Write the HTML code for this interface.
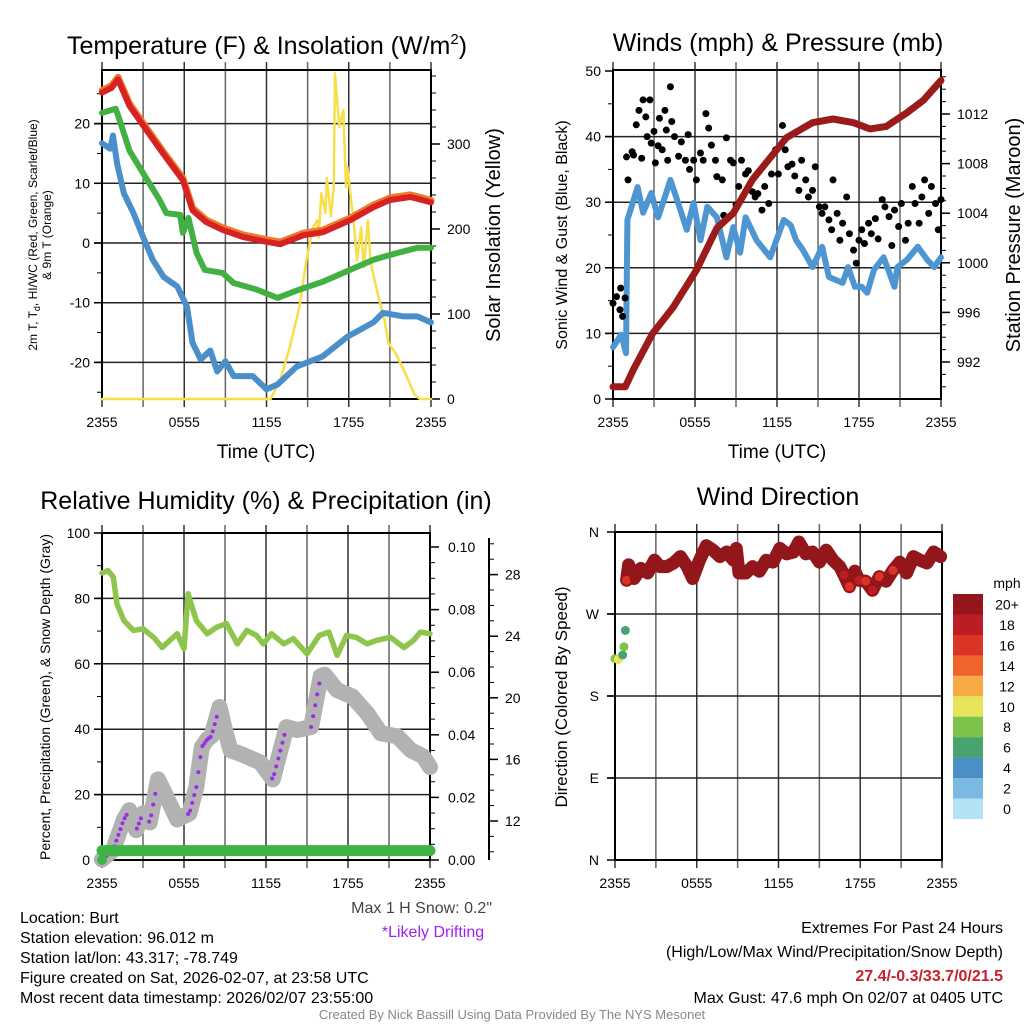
<!DOCTYPE html>
<html><head><meta charset="utf-8"><style>
html,body{margin:0;padding:0;background:#fff;}
svg{display:block;font-family:"Liberation Sans",sans-serif;}
</style></head><body>
<svg id="fig" width="1024" height="1024" viewBox="0 0 1024 1024" xmlns="http://www.w3.org/2000/svg">
<rect width="1024" height="1024" fill="#fff"/>
<text x="267" y="54" font-size="25" text-anchor="middle">Temperature (F) &amp; Insolation (W/m<tspan font-size="15" dy="-10">2</tspan><tspan dy="10">)</tspan></text>
<text x="778" y="51" font-size="25" text-anchor="middle">Winds (mph) &amp; Pressure (mb)</text>
<text x="266" y="509" font-size="25" text-anchor="middle">Relative Humidity (%) &amp; Precipitation (in)</text>
<text x="778" y="505" font-size="25" text-anchor="middle">Wind Direction</text>
<text x="266" y="458" font-size="19" text-anchor="middle">Time (UTC)</text>
<text x="777" y="458" font-size="19" text-anchor="middle">Time (UTC)</text>
<text transform="translate(37,235) rotate(-90)" font-size="12" text-anchor="middle">2m T, T<tspan font-size="9" dy="3">d</tspan><tspan dy="-3">, HI/WC (Red, Green, Scarlet/Blue)</tspan></text>
<text transform="translate(51,235) rotate(-90)" font-size="12" text-anchor="middle">&amp; 9m T (Orange)</text>
<text transform="translate(500,235) rotate(-90)" font-size="20" text-anchor="middle">Solar Insolation (Yellow)</text>
<text transform="translate(567,235) rotate(-90)" font-size="16" text-anchor="middle">Sonic Wind &amp; Gust (Blue, Black)</text>
<text transform="translate(1020,235) rotate(-90)" font-size="20" text-anchor="middle">Station Pressure (Maroon)</text>
<text transform="translate(50,697) rotate(-90)" font-size="14" text-anchor="middle">Percent, Precipitation (Green), &amp; Snow Depth (Gray)</text>
<text transform="translate(567,697) rotate(-90)" font-size="17" text-anchor="middle">Direction (Colored By Speed)</text>
<text x="492" y="913" font-size="16" text-anchor="end" fill="#444">Max 1 H Snow: 0.2"</text>
<text x="433" y="937" font-size="16" text-anchor="middle" fill="#a020f0">*Likely Drifting</text>
<g font-size="16">
<text x="20" y="923">Location: Burt</text>
<text x="20" y="943">Station elevation: 96.012 m</text>
<text x="20" y="963">Station lat/lon: 43.317; -78.749</text>
<text x="20" y="983">Figure created on Sat, 2026-02-07, at 23:58 UTC</text>
<text x="20" y="1003">Most recent data timestamp: 2026/02/07 23:55:00</text>
</g>
<g font-size="16" text-anchor="end">
<text x="1003" y="933">Extremes For Past 24 Hours</text>
<text x="1003" y="957">(High/Low/Max Wind/Precipitation/Snow Depth)</text>
<text x="1003" y="981" fill="#c8202a" font-weight="bold">27.4/-0.3/33.7/0/21.5</text>
<text x="1003" y="1003">Max Gust: 47.6 mph On 02/07 at 0405 UTC</text>
</g>
<text x="512" y="1019" font-size="13" text-anchor="middle" fill="#888">Created By Nick Bassill Using Data Provided By The NYS Mesonet</text>
<text x="1007" y="588" font-size="14" text-anchor="middle">mph</text>
</svg>
<script>
// ---------- data ----------
const xTickLabels = ["2355","0555","1155","1755","2355"];
const redT = [0,0.7,1.17,2,3,4.45,5.9,6.6,7.6,8.8,10.3,12,13,14.7,16.1,18.1,19.8,21,22.5,24];
const redV = [25.2,26.0,27.4,23.0,19.7,15.0,10.5,5.5,3.5,2.2,1.0,0.2,-0.2,1.3,1.8,3.8,6.0,7.2,7.7,6.8];
const greenT = [0,1.0,1.3,2.0,3,4.2,4.7,5.7,5.9,6.3,6.9,7.5,8.8,9.6,11.3,12.8,14.4,16.1,18.1,19.8,21.5,23,24];
const greenV = [21.8,22.5,20.5,15.5,11.7,7.2,5.0,4.7,1.7,4.2,-1.7,-4.5,-5.0,-6.7,-7.8,-9.2,-7.8,-6.5,-4.5,-2.8,-1.7,-0.8,-0.8];
const blueT = [0,0.6,0.8,1.1,1.6,2.3,3,3.7,4.5,5.5,6.2,6.6,7.2,7.9,8.4,9,9.6,11,12,12.8,14.2,16.1,17.9,19.8,20.5,22,23,24];
const blueV = [16.7,15.8,18,13.3,8.3,5,1,-2.8,-5.7,-7.3,-10.7,-16.7,-19.5,-18,-21.5,-19.8,-22.3,-22.3,-24.5,-23.7,-20.7,-19,-15.7,-13.3,-11.7,-12.3,-12.3,-13.3];
const solarT = [0,12.3,13,13.7,14.4,14.9,15.4,15.7,15.8,16,16.3,16.4,16.7,16.9,17.0,17.3,17.6,17.8,17.9,18.4,18.6,18.9,19.1,19.4,19.6,20.1,20.6,20.9,21.4,22.1,22.8,23.2,24];
const solarV = [0,0,22,61,108,163,202,210,190,242,219,260,215,249,383,320,340,249,273,202,163,202,155,210,160,125,93,66,54,31,5,0,0];
const presT = [0,0.9,1.5,2.9,4.4,6.1,7.6,8.8,10.2,12.7,14.6,16.1,17.6,18.8,20,21.5,22.7,24];
const presV = [990,990,991.4,994.3,996.4,999.4,1002.8,1004,1006.7,1010.1,1011.3,1011.6,1011.3,1010.8,1011,1012.1,1013.1,1014.7];
const windT = [0,0.6,0.95,1.05,1.8,2.2,2.8,3.3,3.8,4.2,4.7,5.4,5.9,6.4,6.9,7.6,8.3,8.8,9.3,9.7,10.5,11.5,12.5,13.0,13.4,13.9,14.6,15.3,15.8,16.8,17.2,17.7,18.2,18.6,19.1,19.8,20.6,20.8,21.5,22.3,23,23.5,24];
const windV = [7.9,9.8,7.0,27.3,32.3,28.4,31.4,27.7,30.8,33.4,30.3,25.8,29.9,24.2,29.3,27.7,21.6,26.2,22.3,27.7,24.2,21.6,27.3,26.5,24.2,22.7,20.1,23.2,18.6,17.7,20.1,17.1,17.1,16.2,19.7,21.6,17.1,20.1,21.2,23.2,21.2,20.1,21.6];
const gustT = [0,0.26,0.51,0.56,0.7,0.88,0.99,1.1,1.4,1.5,1.7,1.9,2.1,2.2,2.4,2.5,2.7,2.8,3.0,3.1,3.3,3.4,3.6,3.8,3.9,4.0,4.2,4.3,4.5,4.8,5.0,5.3,5.5,5.6,5.9,6.1,6.4,6.6,6.8,7.0,7.2,7.5,7.6,8.0,8.1,8.3,8.6,8.8,9.0,9.2,9.4,9.7,9.9,10.2,10.4,10.6,10.9,11.1,11.4,11.6,11.9,12.1,12.4,12.6,12.8,13.1,13.3,13.6,13.8,14.1,14.3,14.6,14.8,15.1,15.3,15.5,15.8,16.0,16.1,16.4,16.6,16.8,17.1,17.3,17.6,17.8,18.0,18.2,18.4,18.7,18.9,19.2,19.4,19.7,19.9,20.2,20.4,20.6,20.9,21.1,21.4,21.6,21.9,22.1,22.4,22.6,22.8,23.1,23.3,23.6,23.8,24.0];
const gustV = [14.6,15.6,13.6,16.9,12.6,15.4,36.9,33.4,37.7,37.2,41.8,44,36.7,45.6,43,40,45.6,39,40.8,36,38.6,42.8,38,44,41,36.4,47.6,42.3,40,37,39.2,36.4,40.3,35,36.4,33.4,37.5,36.4,43.5,41.3,38.7,36.4,33.9,33.4,28,39.8,36.4,36,29.6,32.4,36.4,34.3,34.8,31.6,30.8,31.3,28.8,32.4,29.8,34.3,38,34.3,41.7,38,35.4,35.8,34,31.8,36.4,33.4,30.8,31.8,35.4,29.3,28.3,29.3,27.3,25.8,33.4,28.3,24.2,26.8,30.8,25.2,22.7,20.7,24.2,25.8,23.7,26.8,25.2,27.5,24.4,30.4,29.3,27.8,23.4,28.8,26.3,29.8,24.2,26.8,32.4,29.8,26.8,30.8,33.4,28.3,32.4,29.8,25.8,30.4];
const rhT = [0,0.44,0.83,1.1,1.6,2.3,3.0,3.8,4.4,5.5,6.0,6.3,6.9,7.7,8.4,9.1,9.9,10.6,11.3,11.8,12.4,13.3,14.0,15.0,15.9,16.6,17.2,17.9,18.6,19.4,20.1,21.1,22.1,22.8,23.3,24];
const rhV = [87.8,88.5,86.5,78.3,73.2,70.2,70.7,68,65,69.2,64.6,81.4,73.2,69.2,71.2,72.3,66.1,70.2,68.7,66.1,69.2,66.1,67.7,63.1,68.7,69.7,62.6,68.7,68.1,66.1,67.2,68.1,65,67.2,69.7,69.2];
const precipT = [0,24];
const precipV = [0.003,0.003];
const snowT = [0,0.8,1.6,2.0,2.5,3.0,3.5,4.1,4.6,5.5,6.4,6.9,7.3,7.7,8.0,8.6,9.0,9.4,10.3,11.6,12.5,13.0,13.5,14.3,15.3,16.0,16.3,17.2,18.3,19.4,20.4,21.6,22.6,23.5,24];
const snowV = [9.5,10.1,12.1,12.7,11.4,12.5,11.9,14.7,13.8,12.1,12.5,14.2,16.8,17.3,17.5,19.4,17.9,16.6,16.3,15.8,14.7,16.4,18.1,17.9,18.1,21.4,21.5,20.5,20.1,19.0,17.7,17.5,16.6,16.2,15.5];
const dirT = [0,0.24,0.56,0.66,0.76,0.85,1.0,1.4,1.9,2.4,2.9,3.3,3.8,4.3,4.8,5.3,5.7,6.2,6.7,7.2,7.7,8.2,8.7,8.9,9.1,9.6,10.1,10.6,11.1,11.6,12.1,12.6,13.1,13.5,14.0,14.5,15.0,15.5,16.0,16.5,16.8,17.2,17.6,17.9,18.4,18.9,19.4,19.9,20.4,20.9,21.4,21.9,22.4,22.9,23.4,23.9];
const dirV = [221,220,225,234,252,307,324,309,320,315,329,322,322,326,333,322,309,329,345,340,333,338,329,342,315,315,322,317,329,327,342,336,338,349,336,338,327,340,329,322,313,300,317,307,306,296,311,306,318,327,315,333,329,326,338,333];
const dirSpd = [8,10,6,8,6,16,22,22,22,22,22,22,22,22,22,22,22,22,22,22,22,22,22,22,22,22,22,22,22,22,22,22,22,22,22,22,22,22,22,22,18,16,20,18,17,18,16,20,17,20,20,22,22,22,22,22];
const cbLabels = ["20+","18","16","14","12","10","8","6","4","2","0"];
const cbColors = ["#93161b","#bb1d24","#dc3327","#f0632b","#f6a944","#e7e35a","#7dc24a","#48a46f","#4a8fc6","#7bb9e3","#b3e2f6"];

// ---------- helpers ----------
const NS = "http://www.w3.org/2000/svg";
const svg = document.getElementById("fig");
function mk(tag, attrs, parent){const e=document.createElementNS(NS,tag);for(const k in attrs)e.setAttribute(k,attrs[k]);(parent||svg).appendChild(e);return e;}
function txt(x,y,s,size,anchor,parent){const e=mk("text",{x:x,y:y,"font-size":size,"text-anchor":anchor},parent);e.textContent=s;return e;}
const P1={x0:102,x1:431,y0:70,y1:399}, P2={x0:613,x1:941,y0:70,y1:399}, P3={x0:102,x1:430,y0:533,y1:860}, P4={x0:615,x1:942,y0:532,y1:860};
function xs(P){return t=>P.x0+t/24*(P.x1-P.x0);}
function pathD(T,V,xf,yf){return T.map((t,i)=>(i?"L":"M")+xf(t).toFixed(1)+","+yf(V[i]).toFixed(1)).join("");}
function interp(T,V,t){for(let i=1;i<T.length;i++){if(t<=T[i]){const f=(t-T[i-1])/(T[i]-T[i-1]||1);return V[i-1]+f*(V[i]-V[i-1]);}}return V[V.length-1];}

function frame(P,name,hGrid,yfLeft){
  const g=mk("g",{});
  
  
  const x=xs(P);
  for(let h=0;h<=24;h+=3){
    const ln=mk("line",{x1:x(h),x2:x(h),y1:P.y0-8,y2:P.y1+8,stroke:(h%6?"#666":"#333"),"stroke-width":1.5},g);
    
    
  }
  for(let i=0;i<5;i++){
    const l=txt(x(i*6),P.y1+28,xTickLabels[i],14,"middle",g);
    
    
  }
  hGrid.forEach(v=>{
    const ln=mk("line",{x1:P.x0-8,x2:P.x1,y1:yfLeft(v),y2:yfLeft(v),stroke:"#222","stroke-width":1.5},g);
    
    
  });
  const r=mk("rect",{x:P.x0,y:P.y0,width:P.x1-P.x0,height:P.y1-P.y0,fill:"none",stroke:"#000","stroke-width":2},g);
  
  
  return g;
}
function ticksLeft(P,vals,yf,minor,labelFn){
  const g=mk("g",{});
  
  
  minor.forEach(v=>mk("line",{x1:P.x0-5,x2:P.x0,y1:yf(v),y2:yf(v),stroke:"#000","stroke-width":1},g));
  vals.forEach(v=>{mk("line",{x1:P.x0-8,x2:P.x0,y1:yf(v),y2:yf(v),stroke:"#000","stroke-width":1.5},g);
    const l=txt(P.x0-12,yf(v)+5,labelFn(v),14,"end",g);
    
    });
}
function ticksRight(ax,vals,yf,minor,labelFn,lx,y0,y1,line){
  const g=mk("g",{});
  
  
  if(line) mk("line",{x1:ax,x2:ax,y1:y0,y2:y1,stroke:"#000","stroke-width":2},g);
  minor.forEach(v=>mk("line",{x1:ax,x2:ax+5,y1:yf(v),y2:yf(v),stroke:"#000","stroke-width":1},g));
  vals.forEach(v=>{mk("line",{x1:ax,x2:ax+9,y1:yf(v),y2:yf(v),stroke:"#000","stroke-width":1.5},g);
    const l=txt(lx,yf(v)+5,labelFn(v),14,"start",g);
    
    });
}
function range(a,b,s){const r=[];for(let v=a;v<=b+1e-9;v+=s)r.push(+v.toFixed(4));return r;}
function series(d,color,w,name,extra){
  const p=mk("path",Object.assign({d:d,fill:"none",stroke:color,"stroke-width":w,"stroke-linejoin":"round","stroke-linecap":"round"},extra||{}));
  
  
  return p;
}

// ---------- panel 1 ----------
{
  const x=xs(P1), yT=v=>243-v*5.97, yS=v=>399-v*0.85;
  frame(P1,"temperature",[20,10,0,-10,-20],yT);
  ticksLeft(P1,[20,10,0,-10,-20],yT,range(-25,25,5),v=>String(v));
  ticksRight(P1.x1,[0,100,200,300],yS,range(0,380,20),v=>String(v),P1.x1+16,0,0,false);
  series(pathD(solarT,solarV,x,yS),"#f7df4a",2.5,"solar-insolation-line");
  series(pathD(redT,redV.map(v=>v+0.35),x,yT),"#f07a2a",7,"9m-temperature-line");
  series(pathD(redT,redV,x,yT),"#d62222",6,"2m-temperature-line");
  series(pathD(greenT,greenV,x,yT),"#42b142",6,"dewpoint-line");
  series(pathD(blueT,blueV,x,yT),"#4a8fc9",6,"wind-chill-line");
}
// ---------- panel 2 ----------
{
  const x=xs(P2), yW=v=>399-v*6.56, yP=v=>362-(v-992)*12.4;
  frame(P2,"wind",[10,20,30,40],yW);
  ticksLeft(P2,[0,10,20,30,40,50],yW,range(0,50,5),v=>String(v));
  ticksRight(P2.x1,[992,996,1000,1004,1008,1012],yP,range(990,1015,1),v=>String(v),P2.x1+16,0,0,false);
  series(pathD(windT,windV,x,yW),"#4e96d2",6,"sonic-wind-line");
  gustT.forEach((t,i)=>{
    const c=mk("circle",{cx:x(t),cy:yW(gustV[i]),r:3.5,fill:"#000"});
    
    
  });
  series(pathD(presT,presV,x,yP),"#9b1b1b",7,"pressure-line");
}
// ---------- panel 3 ----------
{
  const x=xs(P3), yR=v=>860-v*3.27, yPr=v=>860-v*3130, yS=v=>821-(v-12)*15.4;
  frame(P3,"humidity",[20,40,60,80],yR);
  ticksLeft(P3,[0,20,40,60,80,100],yR,range(0,100,10),v=>String(v));
  ticksRight(P3.x1,[0,0.02,0.04,0.06,0.08,0.10],yPr,range(0,0.1,0.005),v=>v.toFixed(2),P3.x1+18,0,0,false);
  ticksRight(489,[12,16,20,24,28],yS,range(10,30,1),v=>String(v),505,538,860,true);
  series(pathD(rhT,rhV,x,yR),"#8dc64b",5.5,"relative-humidity-line");
  series(pathD(snowT,snowV,x,yS),"#b2b2b2",16,"snow-depth-line");
  for(let t=0.3;t<24;t+=0.15){
    const a=interp(snowT,snowV,t), b=interp(snowT,snowV,t+0.15);
    if(b-a>0.08){
      const c=mk("circle",{cx:x(t),cy:yS(a),r:2,fill:"#9a2de8"});
      
      
    }
  }
  series(pathD(precipT,precipV,x,yPr),"#3db443",11,"precipitation-line");
  const c0=mk("circle",{cx:x(0),cy:yPr(0),r:5,fill:"#3db443"});
  
  
}
// ---------- panel 4 ----------
{
  const x=xs(P4), yD=v=>860-v/360*328;
  frame(P4,"direction",[270,180,90],yD);
  const g=mk("g",{});
  
  
  [[360,"N"],[270,"W"],[180,"S"],[90,"E"],[0,"N"]].forEach(([v,s])=>{
    mk("line",{x1:P4.x0-8,x2:P4.x0,y1:yD(v),y2:yD(v),stroke:"#000","stroke-width":1.5},g);
    txt(P4.x0-16,yD(v)+5,s,14,"end",g);
  });
  const col=s=>cbColors[Math.max(0,Math.min(10,10-Math.floor(s/2)))];
  const mainT=dirT.slice(5), mainV=dirV.slice(5);
  series(pathD(mainT,mainV,x,yD),"#93161b",13,"direction-band");
  dirT.forEach((t,i)=>{
    const c=mk("circle",{cx:x(t),cy:yD(dirV[i]),r:4.5,fill:col(dirSpd[i])});
    
    
  });
  cbLabels.forEach((s,i)=>{
    const r=mk("rect",{x:953,y:594+i*20.45,width:30,height:20.6,fill:cbColors[i]});
    
    
    const l=txt(1007,594+i*20.45+15.5,s,14,"middle");
    
    
  });
}
</script>
</body></html>
